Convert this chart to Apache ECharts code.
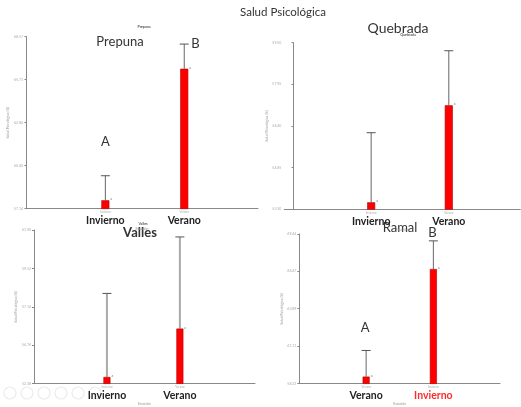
<!DOCTYPE html>
<html><head><meta charset="utf-8">
<script src="https://cdn.jsdelivr.net/npm/echarts@6/dist/echarts.min.js"></script>
<style>html,body{margin:0;padding:0;background:#fff}#c{width:521px;height:407px}</style>
</head><body><div id="c"></div>
<script>
// ---- data ----
const mainTitle = "Salud Psicológica";
const yAxisName = "Salud Psicológica (%)";
const xAxisName = "Estación";

const prepunaCats = ["Invierno", "Verano"];
const prepunaMeans = [57.70, 66.44];
const prepunaUpper = [59.33, 68.08];
const prepunaTicks = [57.14, 60.00, 62.86, 65.71, 68.57];
const prepunaLetters = ["A", "B"];

const quebradaCats = ["Invierno", "Verano"];
const quebradaMeans = [53.56, 57.17];
const quebradaUpper = [56.15, 59.20];
const quebradaTicks = [53.30, 54.85, 56.40, 57.95, 59.50];
const quebradaLetters = ["", ""];

const vallesCats = ["Invierno", "Verano"];
const vallesMeans = [52.79, 55.79];
const vallesUpper = [57.97, 61.47];
const vallesTicks = [52.38, 54.76, 57.14, 59.52, 61.90];
const vallesLetters = ["", ""];

const ramalCats = ["Verano", "Invierno"];
const ramalMeans = [58.85, 66.84];
const ramalUpper = [60.79, 68.93];
const ramalTicks = [58.33, 61.11, 63.89, 66.67, 69.44];
const ramalLetters = ["A", "B"];
const ramalCatStyle = ["b", "r"];

// ---- layout / styling ----
const panels = [
  {name:"Prepuna", cats:prepunaCats, means:prepunaMeans, upper:prepunaUpper, ticks:prepunaTicks, letters:prepunaLetters, catStyle:["b","b"],
   grid:{left:26, top:36.7, width:232, height:172}, xMin:-0.006, xMax:2.935, bw:8,
   err:{color:"#666", w:1, cap:9}, letterOff:[[0,-34,"center"],[7,0,"left"]],
   big:{x:120, y:42, size:13, weight:"normal"}, small:{x:144, y:27}},
  {name:"Quebrada", cats:quebradaCats, means:quebradaMeans, upper:quebradaUpper, ticks:quebradaTicks, letters:quebradaLetters, catStyle:["b","b"],
   grid:{left:284.3, top:42.7, width:236, height:166.6}, xMin:-0.119, xMax:2.921, bw:8,
   err:{color:"#666", w:1, cap:9}, letterOff:[[0,0,"center"],[0,0,"center"]],
   big:{x:398, y:28, size:14, weight:"normal"}, small:{x:408, y:35}},
  {name:"Valles", cats:vallesCats, means:vallesMeans, upper:vallesUpper, ticks:vallesTicks, letters:vallesLetters, catStyle:["b","b"],
   grid:{left:34, top:230, width:221, height:161.7}, xMin:0, xMax:3.03, bw:7,
   err:{color:"#aaa", w:2, cap:9}, letterOff:[[0,0,"center"],[0,0,"center"]],
   big:{x:140, y:233, size:13, weight:"bold"}, small:{x:143, y:224}},
  {name:"Ramal", cats:ramalCats, means:ramalMeans, upper:ramalUpper, ticks:ramalTicks, letters:ramalLetters, catStyle:ramalCatStyle,
   grid:{left:299.3, top:234, width:200.7, height:156.7}, xMin:0.006, xMax:2.991, bw:7,
   err:{color:"#666", w:1, cap:9}, letterOff:[[-1,-23,"center"],[-1,-8,"center"]],
   big:{x:400, y:228, size:13, weight:"normal"}, small:null}
];

const FONT = "Lato";

function errRender(p) {
  return function (params, api) {
    const x = api.value(0), lo = api.value(1), hi = api.value(2);
    const a = api.coord([x, lo]), b = api.coord([x, hi]);
    const ch = [
      {type:"line", shape:{x1:a[0], y1:a[1], x2:b[0], y2:b[1]}, style:{stroke:p.err.color, lineWidth:p.err.w}},
      {type:"line", shape:{x1:b[0]-p.err.cap/2, y1:b[1], x2:b[0]+p.err.cap/2, y2:b[1]}, style:{stroke:"#555", lineWidth:1}}
    ];
    const L = p.letters[params.dataIndex];
    if (L) {
      const o = p.letterOff[params.dataIndex];
      ch.push({type:"text", x:b[0]+o[0], y:b[1]+o[1],
        style:{text:L, fontSize:13, fill:"#333", align:o[2], verticalAlign:"middle", fontFamily:FONT}});
    }
    return {type:"group", children:ch};
  };
}

const grid = [], xAxis = [], yAxis = [], series = [], graphic = [];
panels.forEach((p, i) => {
  grid.push(Object.assign({containLabel:false}, p.grid));
  xAxis.push({
    type:"value", gridIndex:i, min:p.xMin, max:p.xMax,
    axisLine:{show:true, onZero:false, lineStyle:{color:"#888", width:1}},
    axisTick:{show:false}, splitLine:{show:false},
    name:xAxisName, nameLocation:"middle", nameGap:7,
    nameTextStyle:{fontSize:3.5, color:"#999", fontFamily:FONT},
    axisLabel:{
      customValues:[1, 2], margin:1,
      formatter:(v) => { const k = Math.round(v) - 1; return "{t|" + p.cats[k] + "}\n{" + p.catStyle[k] + "|" + p.cats[k] + "}"; },
      rich:{
        t:{fontSize:3, color:"#aaa", lineHeight:5, fontFamily:FONT},
        b:{fontSize:10.5, fontWeight:"bold", color:"#222", lineHeight:12, fontFamily:FONT},
        r:{fontSize:10.5, fontWeight:"bold", color:"#ff2b2b", lineHeight:12, fontFamily:FONT}
      }
    }
  });
  yAxis.push({
    type:"value", gridIndex:i, min:p.ticks[0], max:p.ticks[p.ticks.length-1],
    axisLine:{show:true, lineStyle:{color:"#888", width:1}},
    axisTick:{show:true, customValues:p.ticks, length:2, lineStyle:{color:"#888"}},
    splitLine:{show:false},
    axisLabel:{customValues:p.ticks, fontSize:3.5, color:"#aaa", margin:3, fontFamily:FONT,
      formatter:(v) => Number(v).toFixed(2)},
    name:yAxisName, nameLocation:"middle", nameGap:13, nameRotate:90,
    nameTextStyle:{fontSize:3.5, color:"#999", fontFamily:FONT}
  });
  series.push({
    type:"bar", xAxisIndex:i, yAxisIndex:i, barWidth:p.bw,
    data:p.means.map((m, k) => [k + 1, m]),
    itemStyle:{color:"#ff0000", borderColor:"#b00000", borderWidth:0.6},
    label:{show:true, position:[p.bw + 1, -3], formatter:"a", fontSize:3.5, color:"#777", fontFamily:FONT},
    z:3
  });
  series.push({
    type:"custom", xAxisIndex:i, yAxisIndex:i,
    data:p.means.map((m, k) => [k + 1, m, p.upper[k]]),
    renderItem:errRender(p), z:2, clip:false
  });
  graphic.push({type:"text", x:p.big.x, y:p.big.y, silent:true,
    style:{text:p.name, fontSize:p.big.size, fontWeight:p.big.weight, fill:"#333", align:"center", verticalAlign:"middle", fontFamily:FONT}});
  if (p.small) graphic.push({type:"text", x:p.small.x, y:p.small.y, silent:true,
    style:{text:p.name, fontSize:3.5, fontWeight:"bold", fill:"#555", align:"center", verticalAlign:"middle", fontFamily:FONT}});
});

graphic.push({type:"text", x:283, y:12, silent:true,
  style:{text:mainTitle, fontSize:11.5, fill:"#333", align:"center", verticalAlign:"middle", fontFamily:FONT}});
// faint slideshow controls
[10, 27, 44, 61, 78, 95].forEach(cx => graphic.push({type:"circle", silent:true, shape:{cx:cx, cy:393, r:6},
  style:{fill:"none", stroke:"#ececec", lineWidth:1.2}, z:-1}));

const chart = echarts.init(document.getElementById("c"), null, {renderer:"canvas"});
chart.setOption({animation:false, backgroundColor:"#fff", grid, xAxis, yAxis, series, graphic});
</script></body></html>
